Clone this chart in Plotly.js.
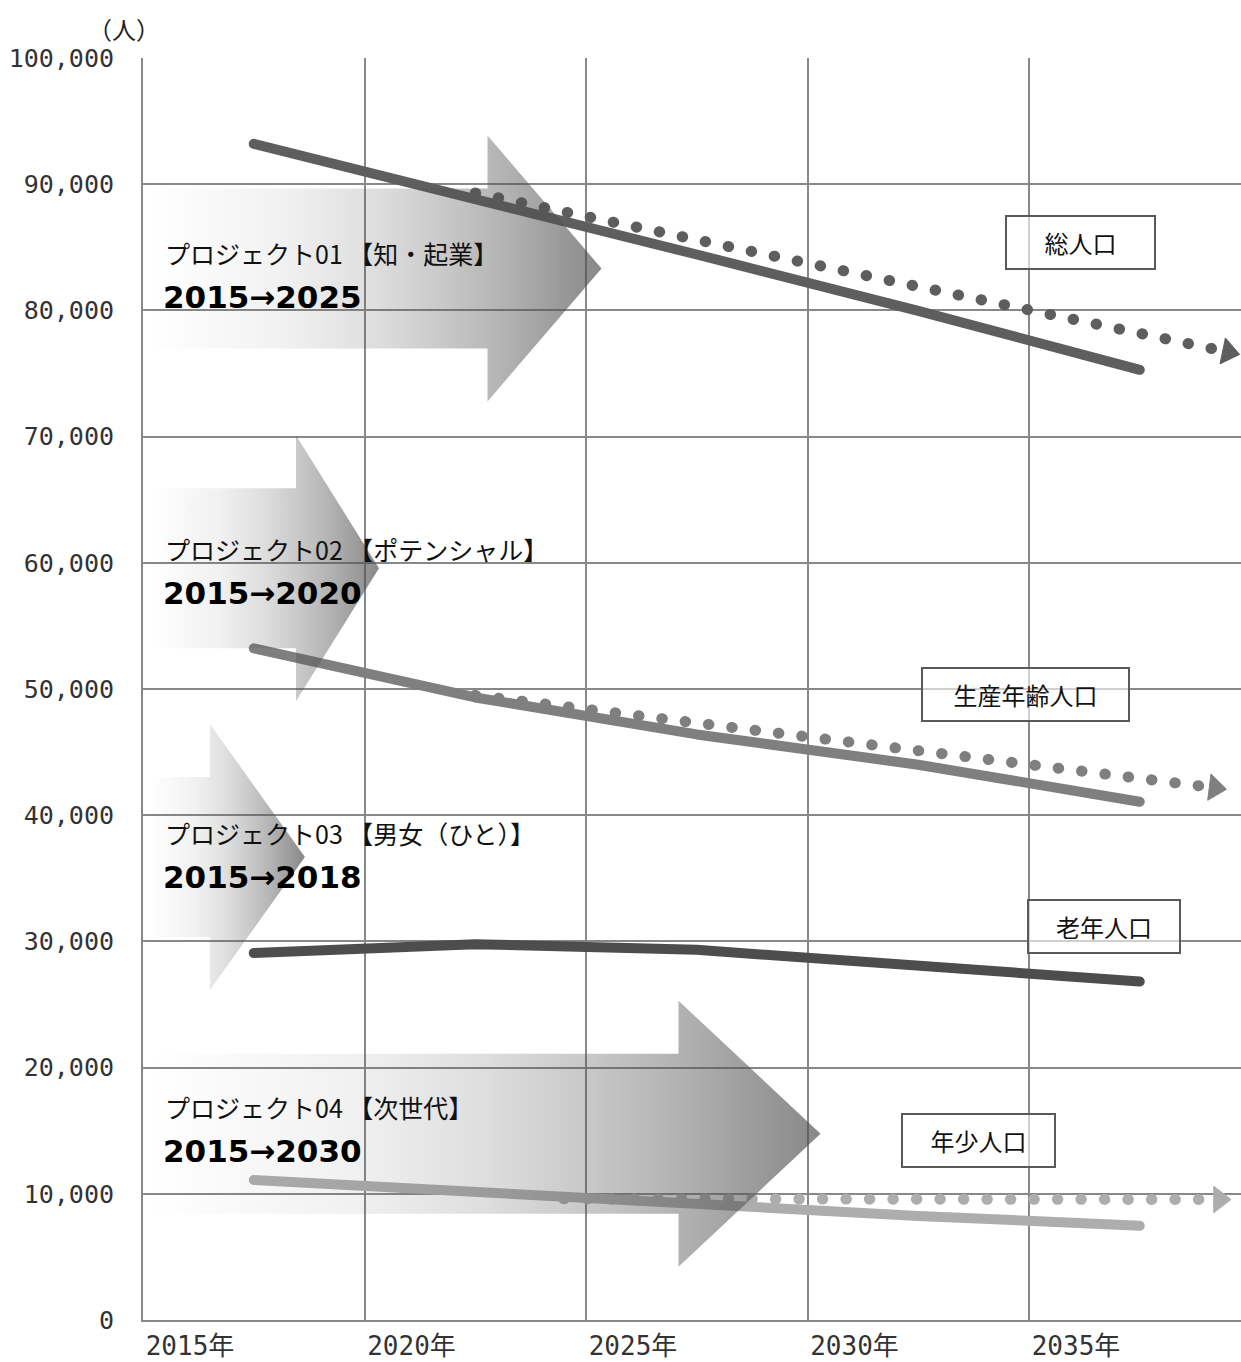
<!DOCTYPE html>
<html><head><meta charset="utf-8">
<script src="https://cdn.plot.ly/plotly-3.0.1.min.js"></script>
<style>
html,body{margin:0;padding:0;background:#fff;}
#chart{width:1241px;height:1362px;}
.scatterlayer .js-line{stroke-linecap:round;stroke-linejoin:round;}
</style></head><body><div id="chart"></div>
<script>
// ---------------- data ----------------
const years = [2015, 2020, 2025, 2030, 2035];
const yearLabels = years.map(y => y + '年');
const totalPop = [93200, 88860, 84430, 79970, 75290];
const workingAgePop = [53220, 49330, 46400, 44000, 41070];
const elderlyPop = [29080, 29780, 29330, 28070, 26820];
const childPop = [11100, 10150, 9120, 8250, 7470];

// target (dotted) lines
const totalTargetYears = [2020, 2025, 2030, 2035, 2037.0];
const totalTarget = [89300, 85530, 81850, 78160, 76700];
const workingTargetYears = [2020, 2025, 2030, 2035, 2036.7];
const workingTarget = [49500, 47300, 45120, 42920, 42170];
const childTargetYears = [2022, 2025, 2030, 2035, 2036.8];
const childTarget = [9600, 9580, 9560, 9550, 9550];

const seriesNames = ['総人口', '生産年齢人口', '老年人口', '年少人口'];

const projectNames = ['プロジェクト01 【知・起業】', 'プロジェクト02 【ポテンシャル】', 'プロジェクト03 【男女（ひと）】', 'プロジェクト04 【次世代】'];
const projectStart = [2015, 2015, 2015, 2015];
const projectEnd = [2025, 2020, 2018, 2030];

// ---------------- layout / style ----------------
const W = 1241, H = 1362;
const M = {l: 143, r: 0, t: 58, b: 42};
const plotW = W - M.l - M.r, plotH = H - M.t - M.b;
const pxPerYear = 221.5 / 5;
const bandEdge = y => y - 2.5;           // year labels sit on the left gridline of each band
const xMin = bandEdge(years[0]);
const xMax = xMin + plotW / pxPerYear;
const yMax = 100000;
const pxPerVal = plotH / yMax;
const px2yr = p => p / pxPerYear;
const px2val = p => p / pxPerVal;

const colors = {total: '#5e5e5e', working: '#7f7f7f', elderly: '#4d4d4d', child: '#adadad'};
const gridColor = '#888888';

const arrowStyle = {
  centerY: [83320, 59560, 36690, 14760],
  headLenPx: [114, 83, 95, 142],
  tipNudgePx: [15.5, 14.5, 29, 13],
  leftNudgePx: 7,
  bodyHalfPx: 80,
  headHalfPx: 133,
  colorscale: [[0, 'rgba(80,80,80,0)'], [0.3, 'rgba(80,80,80,0.08)'], [0.5, 'rgba(80,80,80,0.19)'],
               [0.65, 'rgba(80,80,80,0.31)'], [0.8, 'rgba(80,80,80,0.45)'], [1, 'rgba(80,80,80,0.68)']]
};
const textStyle = {line1Y: [84550, 61090, 38590, 16880], xPx: 20, line2ShiftPx: -44};
const labelBox = {
  x: [2033.66, 2032.42, 2034.19, 2031.36],
  y: [85380, 49560, 31180, 14220],
  w: [147, 205, 150, 151]
};

const dotDash = '0.5px,23px';
const endArrow = n => Array.from({length: n}, (_, i) => i === n - 1 ? 23 : 0);

const traces = [];
function solid(y, color) {
  return {x: years, y: y, type: 'scatter', mode: 'lines', line: {color: color, width: 10}, hoverinfo: 'skip'};
}
function dotted(x, y, color) {
  return {x: x, y: y, type: 'scatter', mode: 'lines+markers',
    line: {color: color, width: 11, dash: dotDash},
    marker: {symbol: 'triangle-up', size: endArrow(x.length), angleref: 'previous', color: color,
             opacity: 1, line: {width: 1, color: color}},
    hoverinfo: 'skip'};
}
traces.push(solid(totalPop, colors.total));
traces.push(solid(workingAgePop, colors.working));
traces.push(solid(elderlyPop, colors.elderly));
traces.push(solid(childPop, colors.child));
traces.push(dotted(totalTargetYears, totalTarget, colors.total));
traces.push(dotted(workingTargetYears, workingTarget, colors.working));
traces.push(dotted(childTargetYears, childTarget, colors.child));

// project arrows
projectStart.forEach((s, i) => {
  const x0 = bandEdge(s) + px2yr(arrowStyle.leftNudgePx);
  const tip = bandEdge(projectEnd[i]) + px2yr(arrowStyle.tipNudgePx[i]);
  const base = tip - px2yr(arrowStyle.headLenPx[i]);
  const c = arrowStyle.centerY[i];
  const b = px2val(arrowStyle.bodyHalfPx), h = px2val(arrowStyle.headHalfPx);
  traces.push({
    x: [x0, base, base, tip, base, base, x0, x0],
    y: [c + b, c + b, c + h, c, c - h, c - b, c - b, c + b],
    type: 'scatter', mode: 'lines', fill: 'toself', line: {width: 0},
    fillgradient: {type: 'horizontal', colorscale: arrowStyle.colorscale},
    hoverinfo: 'skip'
  });
});

const annotations = [];
projectNames.forEach((name, i) => {
  annotations.push({xref: 'x', yref: 'y', x: xMin, xshift: textStyle.xPx, xanchor: 'left',
    y: textStyle.line1Y[i], yanchor: 'middle', showarrow: false, text: name,
    font: {family: 'Noto Sans CJK JP', size: 25, color: '#111'}});
  annotations.push({xref: 'x', yref: 'y', x: xMin, xshift: textStyle.xPx - 2, xanchor: 'left',
    y: textStyle.line1Y[i], yshift: textStyle.line2ShiftPx, yanchor: 'middle', showarrow: false,
    text: '<b>' + projectStart[i] + '→' + projectEnd[i] + '</b>',
    font: {family: 'DejaVu Sans', size: 31, color: '#000'}});
});
seriesNames.forEach((name, i) => {
  annotations.push({xref: 'x', yref: 'y', x: labelBox.x[i], y: labelBox.y[i], xanchor: 'center', yanchor: 'middle',
    showarrow: false, text: name, width: labelBox.w[i], height: 51, borderpad: 0, borderwidth: 2,
    bordercolor: '#595959', bgcolor: 'rgba(255,255,255,0.6)',
    font: {family: 'Noto Sans CJK JP', size: 24, color: '#111'}});
});
annotations.push({xref: 'paper', yref: 'paper', x: 0, xshift: -19, y: 1, yshift: 30, xanchor: 'center', yanchor: 'middle',
  showarrow: false, text: '（人）', font: {family: 'Noto Sans CJK JP', size: 24, color: '#222'}});

const layout = {
  width: W, height: H, margin: M,
  paper_bgcolor: '#fff', plot_bgcolor: '#fff', showlegend: false,
  xaxis: {range: [xMin, xMax], tickmode: 'array', tickvals: years.map(bandEdge), ticktext: yearLabels,
    showgrid: true, gridcolor: gridColor, gridwidth: 2, showline: true, linecolor: gridColor, linewidth: 2,
    ticks: '', ticklabelshift: 47, ticklabelstandoff: 2, zeroline: false,
    tickfont: {family: 'DejaVu Sans Mono, Noto Sans CJK JP', size: 26, color: '#333'}},
  yaxis: {range: [0, yMax], tick0: 0, dtick: 10000, tickformat: ',d',
    showgrid: true, gridcolor: gridColor, gridwidth: 2, showline: true, linecolor: gridColor, linewidth: 2,
    ticks: '', ticklabelstandoff: 22, zeroline: false,
    tickfont: {family: 'DejaVu Sans Mono', size: 25, color: '#333'}},
  annotations: annotations
};
Plotly.newPlot('chart', traces, layout, {staticPlot: true});
</script></body></html>
